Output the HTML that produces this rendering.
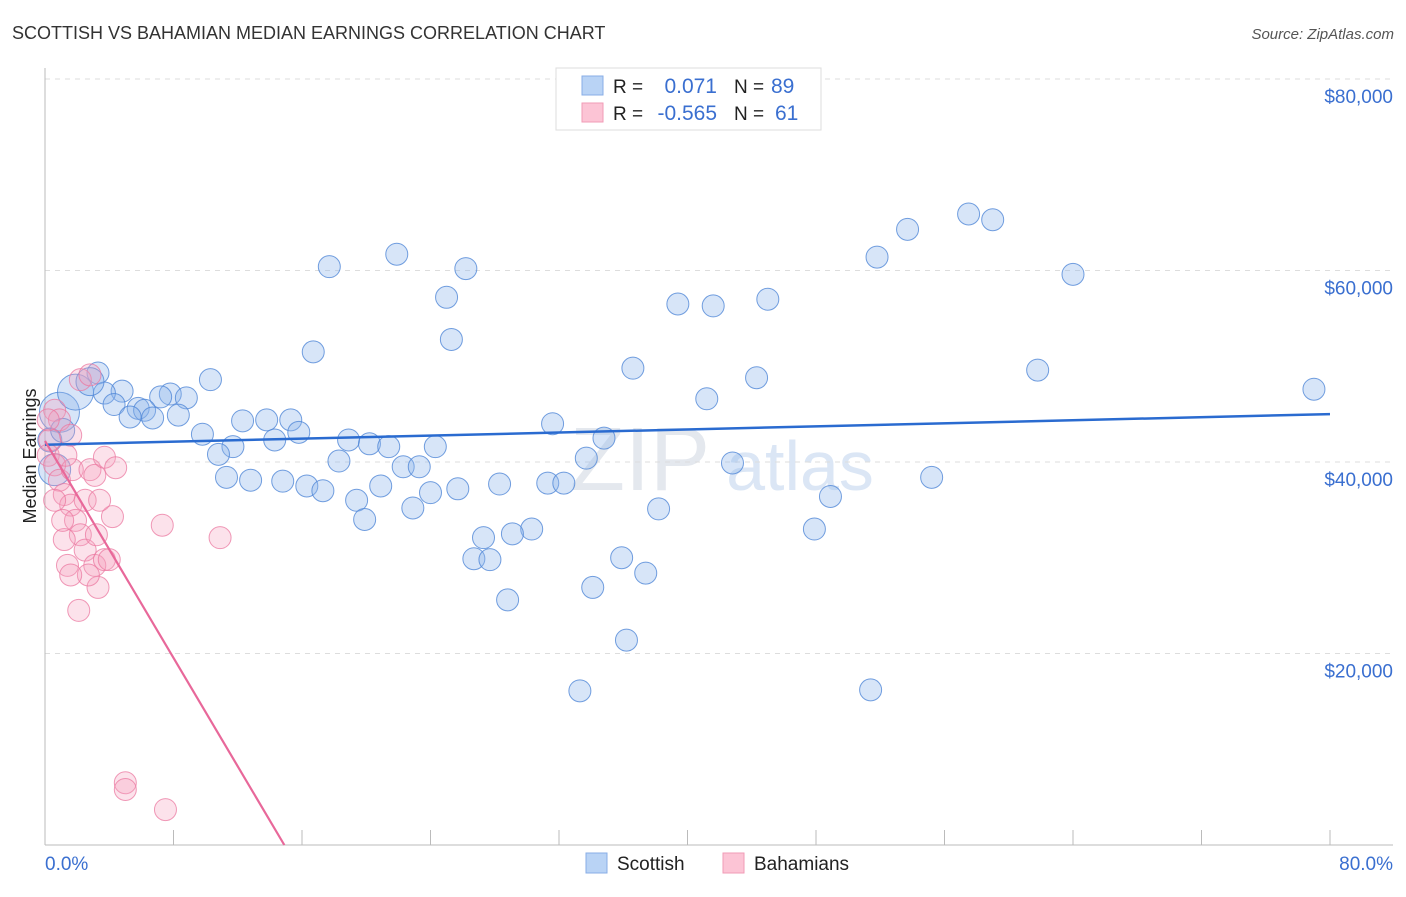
<!DOCTYPE html>
<html><head><meta charset="utf-8"><style>
body{margin:0;background:#fff;font-family:"Liberation Sans",sans-serif;}
svg text{font-family:"Liberation Sans",sans-serif;}
</style></head><body>
<svg id="c" width="1406" height="892">
<text x="12" y="39" font-size="18" fill="#333">SCOTTISH VS BAHAMIAN MEDIAN EARNINGS CORRELATION CHART</text>
<text x="1394" y="39" font-size="15" fill="#555" font-style="italic" text-anchor="end">Source: ZipAtlas.com</text>
<text x="640" y="490" font-size="90" fill="#e4e8ee" font-family="Liberation Serif" text-anchor="middle">ZIP</text>
<text x="800" y="490" font-size="70" fill="#dbe6f5" text-anchor="middle">atlas</text>
<g id="grid"></g><g id="axes"></g><g id="pts"></g><g id="trend"></g>
<text x="36" y="456" font-size="18" fill="#222" text-anchor="middle" transform="rotate(-90 36 456)">Median Earnings</text>
<g>
<rect x="556" y="68" width="265" height="62" fill="#fff" stroke="#ddd"/>
<rect x="582" y="76" width="21" height="19" fill="#b9d3f5" stroke="#88aee6"/>
<rect x="582" y="103" width="21" height="19" fill="#fcc4d5" stroke="#f19bb6"/>
<text x="613" y="93" font-size="19" fill="#222">R = </text><text x="717" y="93" font-size="21" fill="#3a6fd0" text-anchor="end">0.071</text>
<text x="734" y="93" font-size="19" fill="#222">N = </text><text x="771" y="93" font-size="21" fill="#3a6fd0">89</text>
<text x="613" y="120" font-size="19" fill="#222">R = </text><text x="717" y="120" font-size="21" fill="#3a6fd0" text-anchor="end">-0.565</text>
<text x="734" y="120" font-size="19" fill="#222">N = </text><text x="775" y="120" font-size="21" fill="#3a6fd0">61</text>
</g>
<g>
<rect x="586" y="853" width="21" height="20" fill="#b9d3f5" stroke="#88aee6"/>
<text x="617" y="870" font-size="19" fill="#222">Scottish</text>
<rect x="723" y="853" width="21" height="20" fill="#fcc4d5" stroke="#f19bb6"/>
<text x="754" y="870" font-size="19" fill="#222">Bahamians</text>
</g>
<text x="45" y="870" font-size="19" fill="#3a6fd0">0.0%</text>
<text x="1393" y="870" font-size="19" fill="#3a6fd0" text-anchor="end">80.0%</text>
</svg>
<script>
const yTicks=[20,40,60,80];
const yTickLabels=["$20,000","$40,000","$60,000","$80,000"];
const xTicks=[0,8,16,24,32,40,48,56,64,72,80];
const scottishX=[17.7,21.9,26.2,25.0,25.3,16.7,57.5,59.0,53.7,51.8,64.0,39.4,41.6,45.0,36.6,44.3,61.8,41.2,79.0,3.3,10.3,4.8,3.7,7.8,8.8,7.2,5.8,6.2,4.3,5.3,6.7,8.3,12.3,13.8,15.3,9.8,15.8,14.3,11.7,10.8,18.9,20.2,21.4,24.3,31.6,34.8,33.7,18.3,22.3,23.3,11.3,12.8,14.8,16.3,17.3,20.9,24.0,25.7,28.3,31.3,32.3,19.4,22.9,19.9,42.8,55.2,48.9,38.2,30.3,29.1,27.3,26.7,27.7,47.9,35.9,37.4,34.1,28.8,36.2,33.3,51.4,0.9,1.9,2.8,0.6,0.3,1.1];
const scottishY=[60.4,61.7,60.2,57.2,52.8,51.5,65.9,65.3,64.3,61.4,59.6,56.5,56.3,57.0,49.8,48.8,49.6,46.6,47.6,49.3,48.6,47.4,47.2,47.1,46.7,46.8,45.6,45.4,46.0,44.7,44.6,44.9,44.3,44.4,44.4,42.9,43.1,42.3,41.6,40.8,42.3,41.9,41.6,41.6,44.0,42.5,40.4,40.1,39.5,39.5,38.4,38.1,38.0,37.5,37.0,37.5,36.8,37.2,37.7,37.8,37.8,36.0,35.2,34.0,39.9,38.4,36.4,35.1,33.0,32.5,32.1,29.9,29.8,33.0,30.0,28.4,26.9,25.6,21.4,16.1,16.2,45.2,47.3,48.4,39.2,42.3,43.3];
const scottishR=[11,11,11,11,11,11,11,11,11,11,11,11,11,11,11,11,11,11,11,11,11,11,11,11,11,11,11,11,11,11,11,11,11,11,11,11,11,11,11,11,11,11,11,11,11,11,11,11,11,11,11,11,11,11,11,11,11,11,11,11,11,11,11,11,11,11,11,11,11,11,11,11,11,11,11,11,11,11,11,11,11,20,18,14,16,12,12];
const bahamianX=[0.6,0.9,0.3,0.2,0.6,0.9,1.2,1.6,1.9,2.2,2.5,1.7,2.8,3.1,2.5,4.2,3.7,4.4,7.3,10.9,2.1,1.4,3.1,3.7,4.0,3.3,2.7,5.0,5.0,7.5,1.2,3.2,2.2,2.8,1.1,1.6,3.4,0.6,0.2,1.6,1.3];
const bahamianY=[45.4,44.4,42.3,40.7,39.7,38.1,36.6,35.5,33.9,32.4,30.8,39.2,39.2,38.6,36.0,34.3,40.5,39.4,33.4,32.1,24.5,29.2,29.2,29.8,29.8,26.9,28.2,6.5,5.8,3.7,31.9,32.4,48.6,49.1,33.9,28.2,36.0,36.0,44.4,42.8,40.7];
const scottishTrend=[[0,41.8],[80,45.0]];
const bahamianTrend=[[0,42.2],[14.9,0]];
const NS='http://www.w3.org/2000/svg';
const X=v=>45+v*(1330-45)/80, Y=v=>845-v*(845-79)/80;
function mk(t,a,p){const e=document.createElementNS(NS,t);for(const k in a)e.setAttribute(k,a[k]);document.getElementById(p).appendChild(e);return e;}
yTicks.forEach((t,i)=>{
 const g=mk('line',{x1:45,x2:1393,y1:Y(t),y2:Y(t),stroke:'#ddd','stroke-dasharray':'5,5'},'grid');
 
 
 const l=mk('text',{x:1393,y:Y(t)+24,'font-size':19,fill:'#3a6fd0','text-anchor':'end'},'grid');
 l.textContent=yTickLabels[i];
 
 
});
const ax=mk('line',{x1:45,x2:45,y1:68,y2:845,stroke:'#bbb'},'axes');


const bx=mk('line',{x1:45,x2:1393,y1:845,y2:845,stroke:'#bbb'},'axes');


xTicks.forEach(t=>{const tk=mk('line',{x1:X(t),x2:X(t),y1:830,y2:845,stroke:'#bbb'},'axes');
 
 });
scottishX.forEach((x,i)=>{const c=mk('circle',{cx:X(x),cy:Y(scottishY[i]),r:scottishR[i],fill:'rgba(140,180,235,0.35)',stroke:'rgba(80,135,215,0.8)','stroke-width':1},'pts');
 
 });
bahamianX.forEach((x,i)=>{const c=mk('circle',{cx:X(x),cy:Y(bahamianY[i]),r:11,fill:'rgba(245,160,190,0.3)',stroke:'rgba(235,120,160,0.75)','stroke-width':1},'pts');
 
 });
const t1=mk('line',{x1:X(scottishTrend[0][0]),y1:Y(scottishTrend[0][1]),x2:X(scottishTrend[1][0]),y2:Y(scottishTrend[1][1]),stroke:'#2a6bd0','stroke-width':2.5},'trend');


const t2=mk('line',{x1:X(bahamianTrend[0][0]),y1:Y(bahamianTrend[0][1]),x2:X(bahamianTrend[1][0]),y2:Y(bahamianTrend[1][1]),stroke:'#e8689a','stroke-width':2.2},'trend');


</script>
</body></html>
